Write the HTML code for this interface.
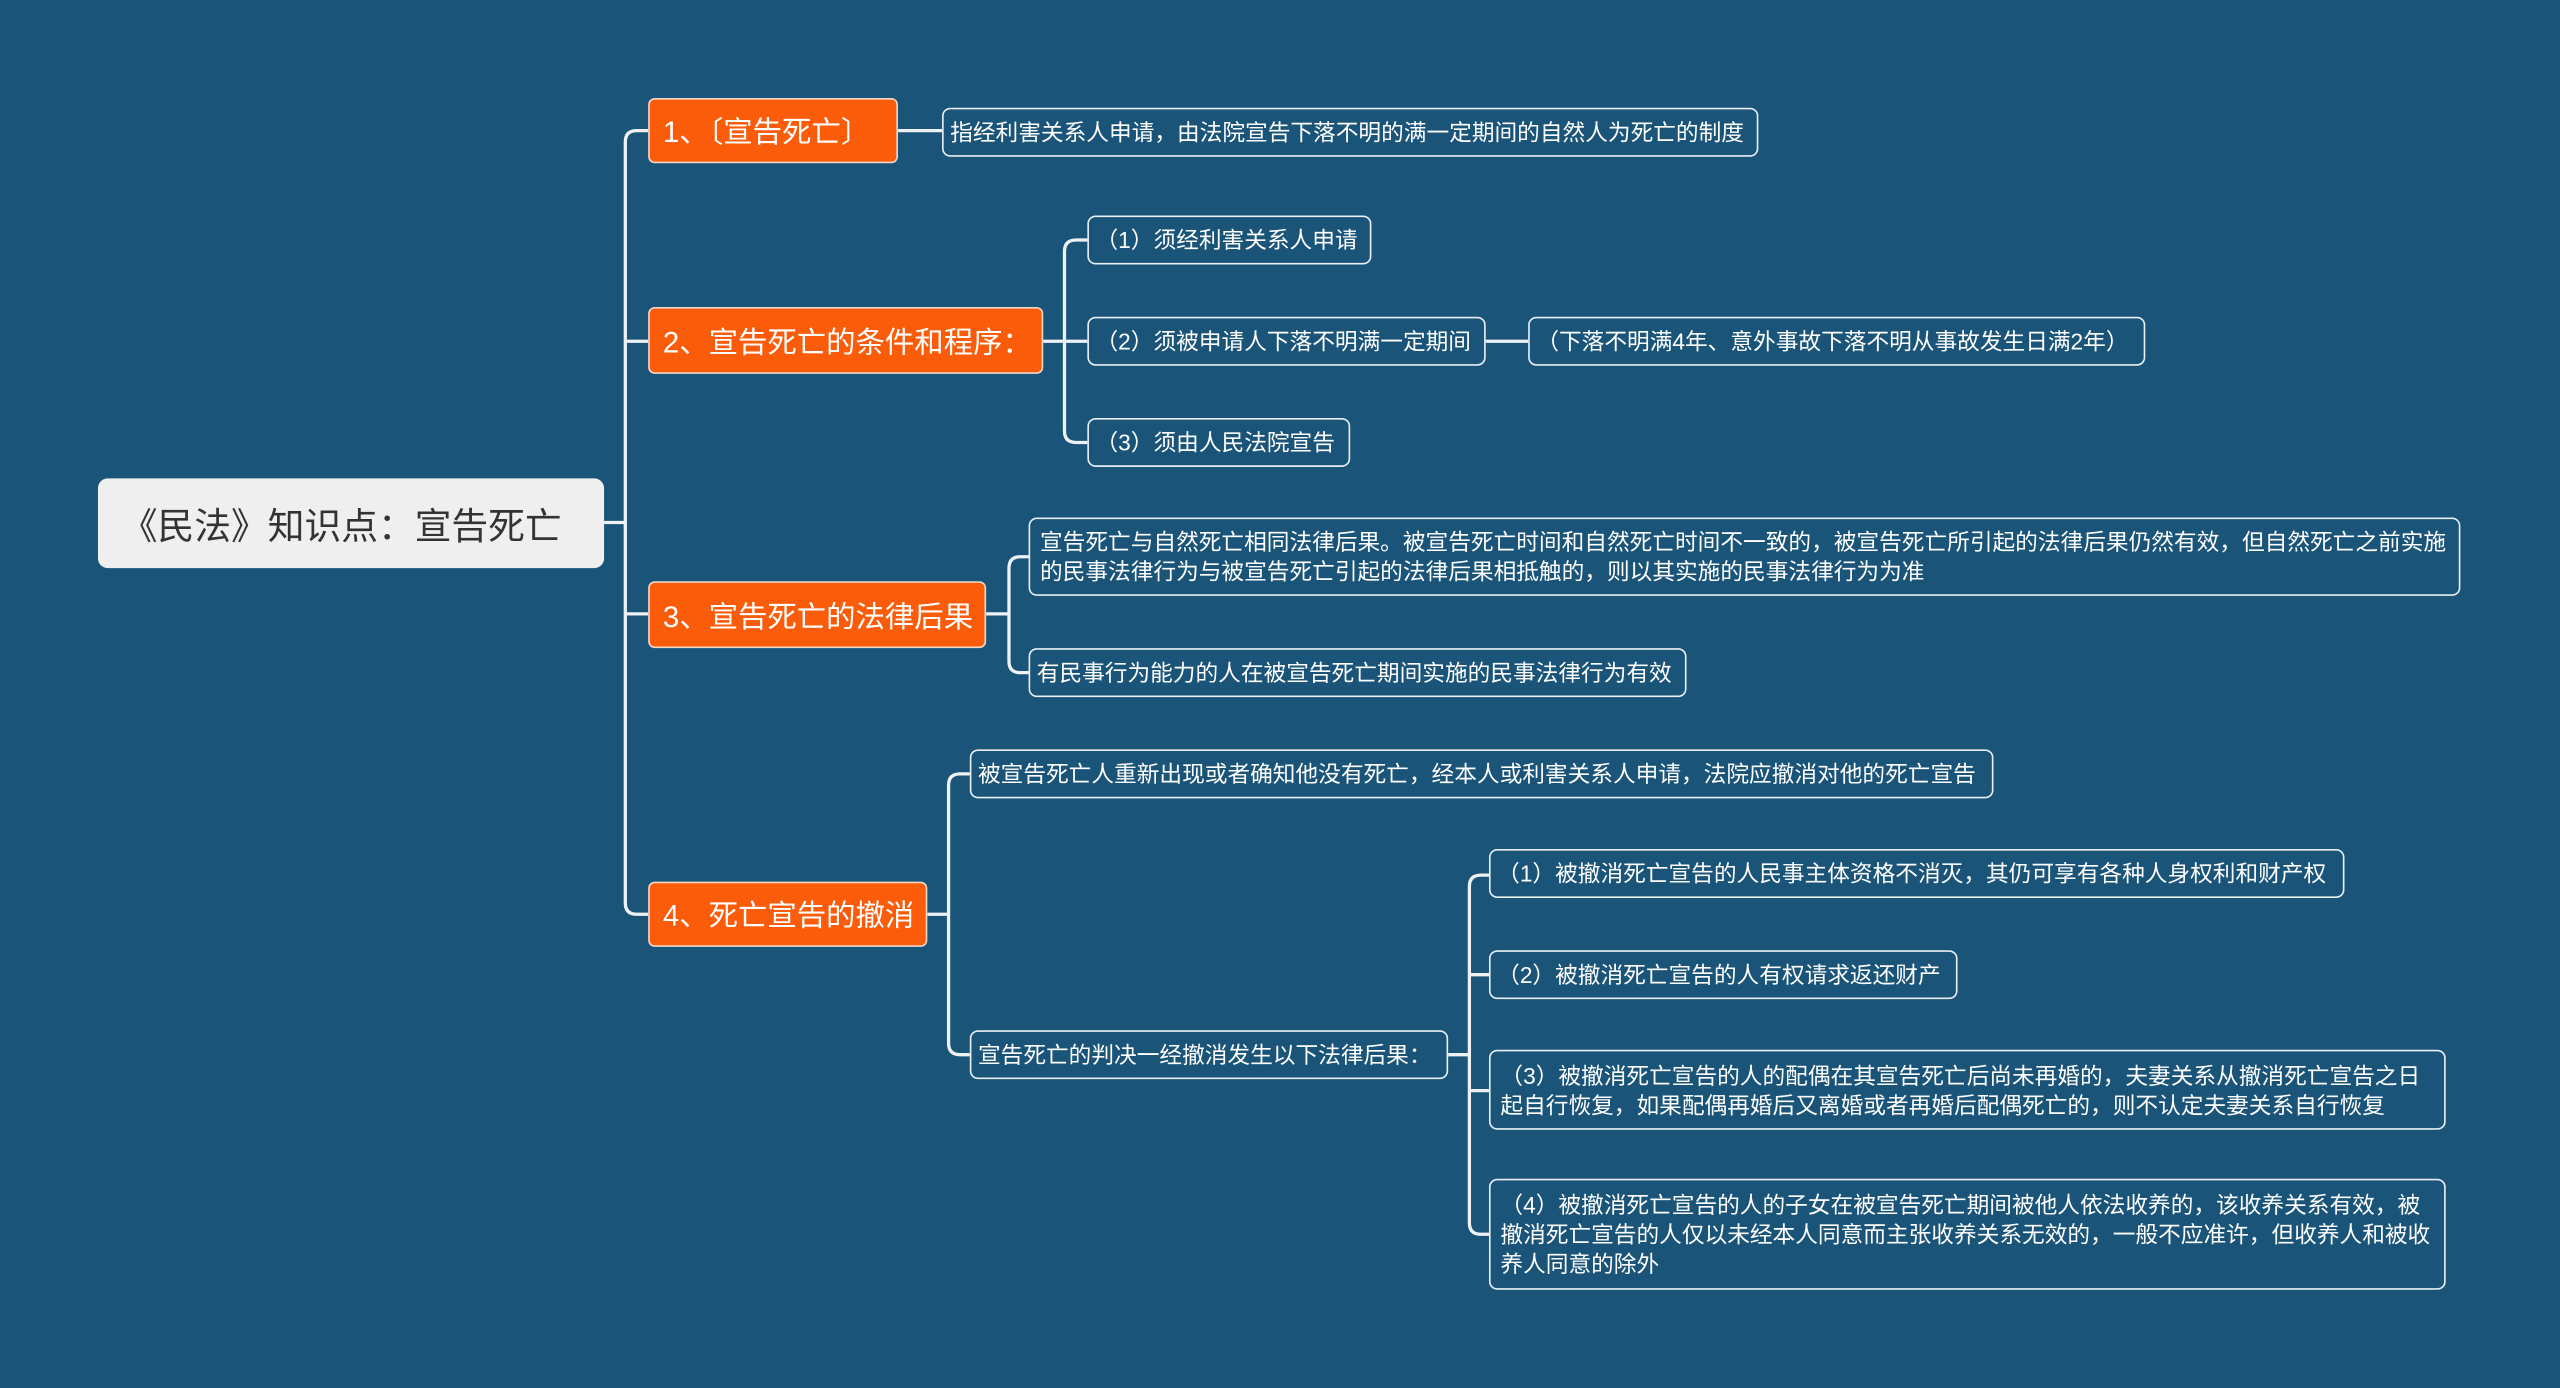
<!DOCTYPE html>
<html><head><meta charset="utf-8"><style>
html,body{margin:0;padding:0;width:2560px;height:1388px;overflow:hidden;background:#1a5479;}
#s{position:absolute;left:0;top:0;width:1568px;height:850px;transform:scale(1.63265);transform-origin:0 0;font-family:"Liberation Sans","Noto Sans CJK SC",sans-serif;}
.n{position:absolute;box-sizing:border-box;display:flex;align-items:center;}
.root{background:#efefef;color:#333;border-radius:6px;font-size:22.5px;padding-left:14px;}
.b{background:#fb5c0a;color:#fff;border:1px solid #f4d7c7;border-radius:4px;font-size:18px;padding-left:8px;white-space:nowrap;}
.l{border:1.3px solid #e8eef2;border-radius:5px;color:#fff;font-size:13.9px;padding:0 6px;line-height:18px;}
.s{white-space:nowrap;padding:0 4px;}
svg{position:absolute;left:0;top:0;}
</style></head><body><div id="s">
<svg width="1568" height="850" fill="none" stroke="#eef2f5" stroke-width="2">
<path d="M370 320H383"/>
<path d="M397 80H390Q383 80 383 87V553Q383 560 390 560H397"/>
<path d="M383 209H397M383 376H397"/>
<path d="M550 80H577"/>
<path d="M639 209H666M666 147H659Q652 147 652 154V264Q652 271 659 271H666M910 209H936"/>
<path d="M604 376H618M630 341H625Q618 341 618 348V405Q618 412 625 412H630"/>
<path d="M568 560H581M594 474H588Q581 474 581 481V639Q581 646 588 646H594"/>
<path d="M887 646H900M912 536H907Q900 536 900 543V749Q900 756 907 756H912M900 597H912M900 668H912"/>
</svg>
<div class="n root" style="left:60px;top:293px;width:310px;height:55px;">《民法》知识点：宣告死亡</div>
<div class="n b" style="left:397px;top:60px;width:153px;height:40px;">1、〔宣告死亡〕</div>
<div class="n b" style="left:397px;top:188px;width:242px;height:41px;">2、宣告死亡的条件和程序：</div>
<div class="n b" style="left:397px;top:356px;width:207px;height:41px;">3、宣告死亡的法律后果</div>
<div class="n b" style="left:397px;top:540px;width:171px;height:40px;">4、死亡宣告的撤消</div>
<div class="n l s" style="left:577px;top:66px;width:500px;height:30px;">指经利害关系人申请，由法院宣告下落不明的满一定期间的自然人为死亡的制度</div>
<div class="n l s" style="left:666px;top:132px;width:174px;height:30px;">（1）须经利害关系人申请</div>
<div class="n l s" style="left:666px;top:194px;width:244px;height:30px;">（2）须被申请人下落不明满一定期间</div>
<div class="n l s" style="left:936px;top:194px;width:378px;height:30px;">（下落不明满4年、意外事故下落不明从事故发生日满2年）</div>
<div class="n l s" style="left:666px;top:256px;width:161px;height:30px;">（3）须由人民法院宣告</div>
<div class="n l" style="left:630px;top:317px;width:877px;height:48px;">宣告死亡与自然死亡相同法律后果。被宣告死亡时间和自然死亡时间不一致的，被宣告死亡所引起的法律后果仍然有效，但自然死亡之前实施的民事法律行为与被宣告死亡引起的法律后果相抵触的，则以其实施的民事法律行为为准</div>
<div class="n l s" style="left:630px;top:397px;width:403px;height:30px;">有民事行为能力的人在被宣告死亡期间实施的民事法律行为有效</div>
<div class="n l s" style="left:594px;top:459px;width:627px;height:30px;">被宣告死亡人重新出现或者确知他没有死亡，经本人或利害关系人申请，法院应撤消对他的死亡宣告</div>
<div class="n l s" style="left:594px;top:631px;width:293px;height:30px;">宣告死亡的判决一经撤消发生以下法律后果：</div>
<div class="n l s" style="left:912px;top:520px;width:524px;height:30px;">（1）被撤消死亡宣告的人民事主体资格不消灭，其仍可享有各种人身权利和财产权</div>
<div class="n l s" style="left:912px;top:582px;width:287px;height:30px;">（2）被撤消死亡宣告的人有权请求返还财产</div>
<div class="n l" style="left:912px;top:643px;width:586px;height:49px;">（3）被撤消死亡宣告的人的配偶在其宣告死亡后尚未再婚的，夫妻关系从撤消死亡宣告之日起自行恢复，如果配偶再婚后又离婚或者再婚后配偶死亡的，则不认定夫妻关系自行恢复</div>
<div class="n l" style="left:912px;top:722px;width:586px;height:68px;">（4）被撤消死亡宣告的人的子女在被宣告死亡期间被他人依法收养的，该收养关系有效，被撤消死亡宣告的人仅以未经本人同意而主张收养关系无效的，一般不应准许，但收养人和被收养人同意的除外</div>
</div></body></html>
